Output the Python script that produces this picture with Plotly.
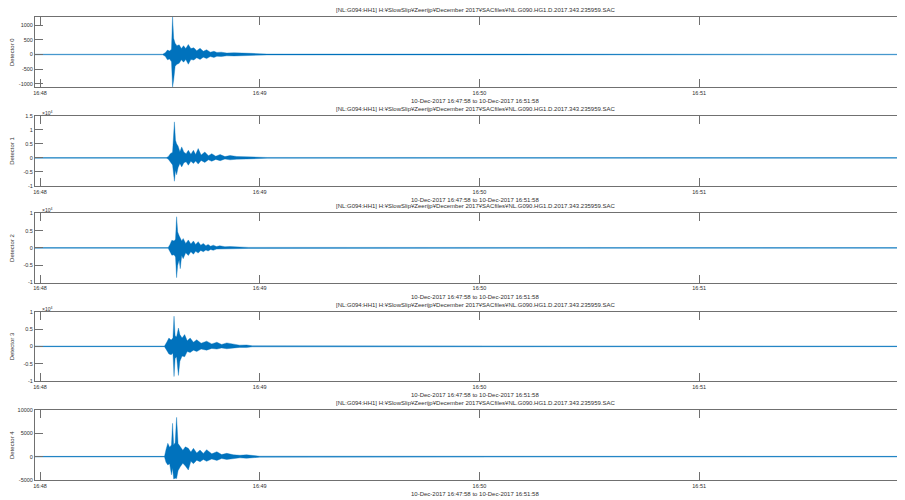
import plotly.graph_objects as go
from datetime import datetime, timedelta

# ---------------- data ----------------
BASE = datetime(2017, 12, 10, 16, 48, 0)          # seconds below are offsets from 16:48:00
title_text = "[NL:G094:HH1] H:¥SlowSlip¥Zeerijp¥December 2017¥SACfiles¥NL.G090.HG1.D.2017.343.235959.SAC"
xlabel_text = "10-Dec-2017 16:47:58 to 10-Dec-2017 16:51:58"
detector_names = ["Detector 0", "Detector 1", "Detector 2", "Detector 3", "Detector 4"]
x_tick_times = ["2017-12-10 16:48:00", "2017-12-10 16:49:00", "2017-12-10 16:50:00", "2017-12-10 16:51:00"]
x_tick_labels = ["16:48", "16:49", "16:50", "16:51"]

# envelope of each trace: time (s after 16:48:00), upper and lower amplitude
t0  = [-2, 33.5, 34.2, 34.8, 35.4, 35.9, 36.2, 36.5, 36.9, 37.4, 38.0, 38.6, 39.2, 39.8, 40.5, 41.2,
       42.0, 42.8, 43.7, 44.6, 45.5, 46.5, 47.5, 48.3, 49.5, 51.0, 53.0, 55.0, 57.5, 60.0, 62.0, 238]
up0 = [10, 10, 60, 150, 120, 180, 1275, 550, 380, 300, 330, 200, 300, 200, 340, 200,
       230, 130, 210, 110, 160, 80, 110, 70, 80, 50, 60, 40, 40, 25, 15, 10]
lo0 = [-10, -10, -60, -180, -150, -250, -1105, -870, -400, -330, -300, -180, -260, -170, -330, -170,
       -190, -110, -170, -90, -140, -70, -100, -60, -70, -45, -50, -35, -35, -25, -15, -10]

t1  = [-2, 34.5, 35.0, 35.6, 36.2, 36.7, 37.0, 37.3, 37.7, 38.2, 38.7, 39.3, 39.9, 40.5, 41.2, 41.9,
       42.5, 43.2, 44.0, 45.0, 46.0, 46.9, 48.0, 49.2, 50.5, 51.9, 53.7, 56.4, 60.0, 62.0, 238]
up1 = [100, 100, 400, 1500, 2000, 12800, 6300, 5000, 4200, 2200, 3900, 2000, 1500, 2700, 1300, 2700,
       1200, 3300, 1000, 2100, 800, 1500, 600, 1200, 450, 850, 500, 400, 300, 150, 100]
lo1 = [-100, -100, -400, -1500, -2500, -8300, -4400, -6000, -3500, -2000, -3200, -1700, -1400, -2600, -1200, -2000,
       -1100, -2200, -900, -1600, -700, -1200, -550, -1000, -400, -700, -450, -400, -300, -150, -100]

t2  = [-2, 35.0, 35.5, 36.0, 36.6, 37.0, 37.3, 37.6, 38.0, 38.3, 38.7, 39.1, 39.8, 40.5, 41.2, 41.9,
       42.5, 43.2, 43.9, 44.6, 45.3, 45.9, 46.6, 47.3, 48.2, 49.1, 50.5, 51.9, 54.6, 57.0, 238]
up2 = [90, 90, 1000, 2200, 2000, 2500, 9000, 4600, 3500, 3000, 2000, 2700, 1300, 2300, 1100, 2000,
       1000, 1800, 800, 1300, 650, 1000, 500, 800, 400, 600, 350, 400, 250, 150, 90]
lo2 = [-90, -90, -1000, -2100, -2000, -2600, -8600, -5000, -3500, -6000, -2200, -3100, -1400, -2200, -1100, -1800,
       -1000, -1500, -750, -1100, -600, -900, -450, -700, -350, -500, -300, -350, -250, -150, -90]

t3  = [-2, 34.0, 34.6, 35.2, 35.8, 36.3, 36.6, 36.9, 37.3, 37.8, 38.2, 38.8, 39.5, 40.2,
       41.0, 41.9, 42.8, 44.0, 45.5, 46.9, 48.3, 49.6, 51.0, 52.8, 54.5, 56.4, 58.0, 238]
up3 = [90, 90, 1200, 2400, 1800, 2400, 8700, 3000, 2800, 5300, 3400, 2400, 3400, 1600,
       2400, 1200, 1900, 900, 1500, 700, 1200, 550, 1000, 700, 350, 400, 150, 90]
lo3 = [-90, -90, -1000, -2200, -2400, -2000, -8700, -3500, -3000, -8400, -4300, -2800, -3000, -1500,
       -1800, -1100, -1500, -800, -1100, -600, -800, -450, -700, -500, -300, -350, -150, -90]

t4  = [-2, 34.0, 34.4, 34.9, 35.4, 35.9, 36.2, 36.5, 36.9, 37.3, 37.7, 38.3, 39.0, 39.7, 40.5, 41.2,
       41.9, 42.8, 43.7, 44.6, 45.5, 46.9, 48.3, 49.6, 51.0, 52.8, 54.6, 56.4, 58.5, 60.0, 238]
up4 = [65, 65, 1500, 2870, 2000, 2500, 7150, 2500, 3000, 8430, 2800, 2140, 1400, 2100, 1780, 1000,
       1780, 800, 1430, 700, 1500, 600, 1070, 450, 710, 400, 300, 400, 200, 100, 65]
lo4 = [-65, -65, -1200, -1780, -1500, -3900, -2500, -4770, -4600, -4700, -3000, -2140, -1400, -2000, -2850, -1000,
       -1500, -750, -1100, -600, -1000, -500, -800, -400, -600, -350, -250, -350, -200, -100, -65]

times = [t0, t1, t2, t3, t4]
uppers = [up0, up1, up2, up3, up4]
lowers = [lo0, lo1, lo2, lo3, lo4]

y_ranges = [[-1105, 1275], [-10000, 15000], [-10000, 10000], [-10000, 10000], [-5000, 10000]]
y_tickvals = [[-1000, -500, 0, 500, 1000],
              [-10000, -5000, 0, 5000, 10000, 15000],
              [-10000, -5000, 0, 5000, 10000],
              [-10000, -5000, 0, 5000, 10000],
              [-5000, 0, 5000, 10000]]
y_ticktext = [["-1000", "-500", "0", "500", "1000"],
              ["-1", "-0.5", "0", "0.5", "1", "1.5"],
              ["-1", "-0.5", "0", "0.5", "1"],
              ["-1", "-0.5", "0", "0.5", "1"],
              ["-5000", "0", "5000", "10000"]]
has_exponent = [False, True, True, True, False]

# ---------------- layout geometry ----------------
# The page body has an 8px margin, so the figure is made 8px smaller and all
# positions below are given in screenshot pixels.
OFF = 8
W, H = 905 - OFF, 500 - OFF
ML, MR, MT, MB = 35 - OFF, 0, 17 - OFF, 20
PW, PH = W - ML - MR, H - MT - MB
panel_px = [(17, 87), (115.7, 186), (213.3, 282.5), (311.7, 381), (410, 480)]   # top, bottom


def py(ypx):
    return (H + OFF - MB - ypx) / PH


def px(xpx):
    return (xpx - OFF - ML) / PW


BLUE = "#0072BD"
EDGE = "rgba(0,114,189,0.45)"
AX = "#707070"
TXT = "#303030"
FONT = "Liberation Sans, Arial, sans-serif"

x_start = BASE + timedelta(seconds=-1.365)
x_end = BASE + timedelta(seconds=236.2)

fig = go.Figure()
annotations = []
for i in range(5):
    t, up, lo = times[i], uppers[i], lowers[i]
    assert len(t) == len(up) == len(lo), i
    xs = [BASE + timedelta(seconds=s) for s in t]
    xpoly = xs + xs[::-1]
    ypoly = up + lo[::-1]
    sfx = "" if i == 0 else str(i + 1)
    fig.add_trace(go.Scatter(
        x=xpoly, y=ypoly, mode="lines", fill="toself", fillcolor=BLUE,
        line=dict(color=EDGE, width=0.8), xaxis="x" + sfx, yaxis="y" + sfx,
        hoverinfo="skip", showlegend=False))

    top, bot = panel_px[i]
    fig.layout["xaxis" + sfx] = dict(
        domain=[0, 1], anchor="y" + sfx, type="date",
        range=[x_start, x_end],
        tickvals=x_tick_times, ticktext=x_tick_labels,
        ticks="inside", ticklen=8, tickwidth=1, tickcolor=AX,
        showline=True, linecolor=AX, linewidth=1, mirror="ticks",
        showgrid=False, zeroline=False,
        tickfont=dict(size=5.5, color=TXT, family=FONT))
    fig.layout["yaxis" + sfx] = dict(
        domain=[py(bot), py(top)], anchor="x" + sfx,
        range=y_ranges[i], tickvals=y_tickvals[i], ticktext=y_ticktext[i],
        ticks="inside", ticklen=8, tickwidth=1, tickcolor=AX,
        showline=True, linecolor=AX, linewidth=1, mirror="ticks",
        showgrid=False, zeroline=False,
        tickfont=dict(size=5.5, color=TXT, family=FONT))

    annotations.append(dict(text=title_text, xref="paper", yref="paper",
                            x=px(475), y=py(top - 7), showarrow=False,
                            xanchor="center", yanchor="middle",
                            font=dict(size=6, color=TXT, family=FONT)))
    annotations.append(dict(text=xlabel_text, xref="paper", yref="paper",
                            x=px(475), y=py(bot + 14), showarrow=False,
                            xanchor="center", yanchor="middle",
                            font=dict(size=6, color=TXT, family=FONT)))
    annotations.append(dict(text=detector_names[i], xref="paper", yref="paper",
                            x=px(12), y=py((top + bot) / 2), showarrow=False,
                            textangle=-90, xanchor="center", yanchor="middle",
                            font=dict(size=6, color=TXT, family=FONT)))
    if has_exponent[i]:
        annotations.append(dict(text="×10<sup>4</sup>", xref="paper", yref="paper",
                                x=px(40), y=py(top - 3), showarrow=False,
                                xanchor="left", yanchor="middle",
                                font=dict(size=5, color=TXT, family=FONT)))

fig.update_layout(
    width=W, height=H,
    margin=dict(l=ML, r=MR, t=MT, b=MB),
    paper_bgcolor="white", plot_bgcolor="white",
    annotations=annotations,
    font=dict(family=FONT, color=TXT),
)

fig.write_html("out.html")
